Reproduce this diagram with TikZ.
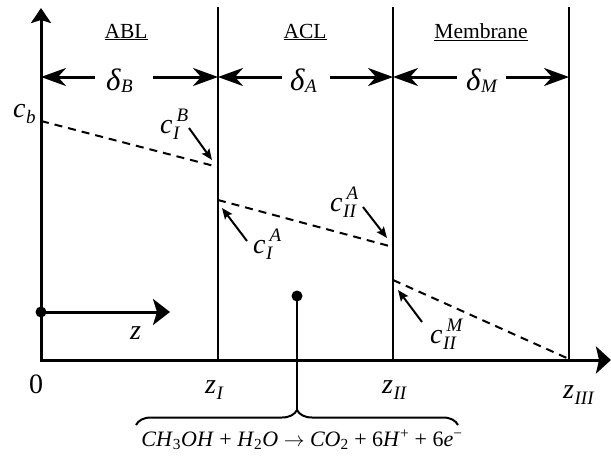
\documentclass[tikz,border=0pt]{standalone}
\usepackage{fontspec}
\setmainfont{Liberation Serif}
\usetikzlibrary{arrows.meta,decorations.pathreplacing}
\newcommand{\subsz}{\fontsize{19}{19}\selectfont}
\newcommand{\sbs}[2]{\textit{#1}\kern0.02em\raisebox{-0.22em}{\subsz\textit{#2}}}
\newcommand{\sbsp}[3]{\textit{#1}\kern0.02em\makebox[0pt][l]{\kern0.12em\raisebox{0.42em}{\subsz\textit{#3}}}\raisebox{-0.22em}{\subsz\textit{#2}}}
\newcommand{\dsb}[1]{{\fontsize{31}{31}\selectfont\textit{δ}}\raisebox{-0.08em}{\subsz\textit{#1}}}
\begin{document}
\begin{tikzpicture}[x=1pt,y=-1pt,
  axis/.style={line width=3pt},
  vline/.style={line width=2pt},
  dline/.style={line width=2pt, dash pattern=on 8pt off 6pt},
  darr/.style={line width=3pt,-{Stealth[length=25pt,width=18pt,inset=8pt]}},
  sarr/.style={line width=2pt,-{Stealth[length=11pt,width=9pt,inset=2pt]}},
  lab/.style={inner sep=0pt, anchor=base west, font=\fontsize{28}{32}\selectfont},
  head/.style={inner sep=0pt, font=\fontsize{21.5}{25}\selectfont},
  dotn/.style={circle, fill=black, inner sep=0pt, minimum size=11pt},
]
\useasboundingbox (0,0) rectangle (611,463);
% axes
\coordinate (O) at (41,360);
\coordinate (Ytop) at (41,8);
\coordinate (Xend) at (611,360);
\draw[axis,{Stealth[length=15pt,width=20pt,inset=3pt]}-{Stealth[length=15pt,width=27pt,inset=3pt]}]
  (Ytop) -- (O) -- (Xend);
% vertical boundaries
\coordinate (t1) at (218,7); \coordinate (b1) at (218,360);
\coordinate (t2) at (393,7); \coordinate (b2) at (393,360);
\coordinate (t3) at (569,7); \coordinate (b3) at (569,360);
\draw[vline] (t1) -- (b1);
\draw[vline] (t2) -- (b2);
\draw[vline] (t3) -- (b3);
% headings
\node[head] (hABL) at (126,32) {\underline{ABL}};
\node[head] (hACL) at (305,32) {\underline{ACL}};
\node[head] (hMem) at (481,32) {\underline{Membrane}};
% thickness arrows
\coordinate (a0) at (41,77);
\coordinate (a1) at (218,77);
\coordinate (a2) at (393,77);
\coordinate (a3) at (569,77);
\coordinate (gB1) at (95,77);  \coordinate (gB2) at (153,77);
\coordinate (gA1) at (282,77); \coordinate (gA2) at (330,77);
\coordinate (gM1) at (457,77); \coordinate (gM2) at (506,77);
\node[lab] (dB) at (106,90) {\dsb{B}};
\node[lab] (dA) at (290,90) {\dsb{A}};
\node[lab] (dM) at (466,90) {\dsb{M}};
\draw[darr] (gB1) -- (a0);
\draw[darr] (gB2) -- (a1);
\draw[darr] (gA1) -- (a1);
\draw[darr] (gA2) -- (a2);
\draw[darr] (gM1) -- (a2);
\draw[darr] (gM2) -- (a3);
% concentration profiles
\coordinate (p0) at (41,121);
\coordinate (p1) at (218,167);
\coordinate (p2) at (218,200);
\coordinate (p3) at (393,247);
\coordinate (p4) at (393,280);
\coordinate (p5) at (569,359);
\draw[dline] (p0) -- (p1);
\draw[dline] (p2) -- (p3);
\draw[dline] (p4) -- (p5);
% labels of concentrations
\node[lab] (cb) at (13,117) {\sbs{c}{b}};
\node[lab] (cIB) at (160,133) {\sbsp{c}{I}{B}};
\node[lab] (cIA) at (253,253) {\sbsp{c}{I}{A}};
\node[lab] (cIIA) at (330,211) {\sbsp{c}{II}{A}};
\node[lab] (cIIM) at (430,343) {\sbsp{c}{II}{M}};
\coordinate (s1) at (189,128); \coordinate (e1) at (212,160);
\coordinate (s2) at (247,241); \coordinate (e2) at (222,208);
\coordinate (s3) at (363,207); \coordinate (e3) at (387,238);
\coordinate (s4) at (422,322); \coordinate (e4) at (398,290);
\draw[sarr] (s1) -- (e1);
\draw[sarr] (s2) -- (e2);
\draw[sarr] (s3) -- (e3);
\draw[sarr] (s4) -- (e4);
% z direction
\node[dotn] (zdot) at (41,312) {};
\coordinate (zend) at (170,312);
\draw[axis,-{Stealth[length=17pt,width=26pt,inset=4pt]}] (zdot.center) -- (zend);
\node[lab] (zlab) at (130,339) {\textit{z}};
% axis labels
\node[lab] (zero) at (29,393) {0};
\node[lab] (zI) at (205,393) {\sbs{z}{I}};
\node[lab] (zII) at (382,393) {\sbs{z}{II}};
\node[lab] (zIII) at (563,398) {\sbs{z}{III}};
% reaction
\node[dotn] (rdot) at (297,296) {};
\coordinate (btip) at (297,410);
\coordinate (bl) at (136,425);
\coordinate (br) at (458,425);
\draw[vline] (rdot.center) -- (btip);
\draw[vline, decorate, decoration={brace, amplitude=15pt}] (bl) -- (br);
\node[inner sep=0pt, font=\fontsize{22}{26}\selectfont] (eq) at (302,440)
  {\textit{CH}\textsubscript{3}\textit{OH} + \textit{H}\textsubscript{2}\textit{O} $\rightarrow$ \textit{CO}\textsubscript{2} + 6\textit{H}\textsuperscript{+} + 6\textit{e}\textsuperscript{−}};
\end{tikzpicture}
\end{document}
